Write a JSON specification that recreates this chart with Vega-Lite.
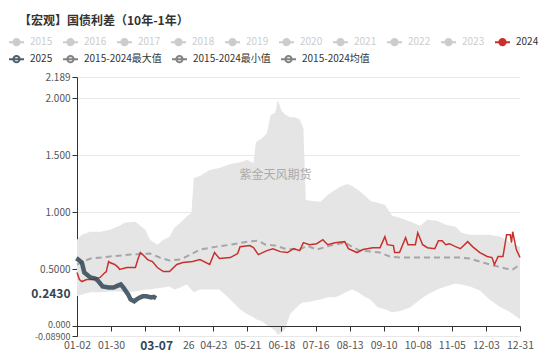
{
  "$schema": "https://vega.github.io/schema/vega-lite/v6.json",
  "autosize": "none",
  "width": 443,
  "height": 259,
  "padding": {"left": 77, "top": 77, "right": 30, "bottom": 20},
  "background": "white",
  "title": {"text": "【宏观】国债利差（10年-1年）", "anchor": "start", "frame": "group", "dx": -58, "offset": 6, "fontSize": 12, "font": "Noto Sans CJK SC", "fontWeight": "bold", "color": "#333"},
  "config": {"view": {"stroke": null}},
  "datasets": {
    "band": [
      {"date": "2024-01-02", "max": 0.758, "min": 0.260},
      {"date": "2024-01-06", "max": 0.802, "min": 0.277},
      {"date": "2024-01-13", "max": 0.828, "min": 0.295},
      {"date": "2024-01-21", "max": 0.828, "min": 0.295},
      {"date": "2024-01-29", "max": 0.846, "min": 0.303},
      {"date": "2024-02-06", "max": 0.881, "min": 0.303},
      {"date": "2024-02-10", "max": 0.907, "min": 0.295},
      {"date": "2024-02-19", "max": 0.916, "min": 0.303},
      {"date": "2024-02-27", "max": 0.846, "min": 0.321},
      {"date": "2024-03-02", "max": 0.758, "min": 0.321},
      {"date": "2024-03-08", "max": 0.714, "min": 0.330},
      {"date": "2024-03-13", "max": 0.758, "min": 0.338},
      {"date": "2024-03-18", "max": 0.784, "min": 0.347},
      {"date": "2024-03-22", "max": 0.863, "min": 0.321},
      {"date": "2024-03-27", "max": 0.907, "min": 0.338},
      {"date": "2024-04-01", "max": 0.959, "min": 0.365},
      {"date": "2024-04-05", "max": 0.994, "min": 0.321},
      {"date": "2024-04-07", "max": 1.300, "min": 0.295},
      {"date": "2024-04-12", "max": 1.318, "min": 0.321},
      {"date": "2024-04-20", "max": 1.370, "min": 0.321},
      {"date": "2024-04-28", "max": 1.388, "min": 0.321},
      {"date": "2024-05-07", "max": 1.423, "min": 0.233},
      {"date": "2024-05-15", "max": 1.440, "min": 0.146},
      {"date": "2024-05-21", "max": 1.458, "min": 0.102},
      {"date": "2024-05-26", "max": 1.432, "min": 0.076},
      {"date": "2024-05-28", "max": 1.615, "min": 0.058},
      {"date": "2024-06-02", "max": 1.650, "min": 0.041},
      {"date": "2024-06-06", "max": 1.694, "min": 0.006},
      {"date": "2024-06-09", "max": 1.851, "min": -0.011},
      {"date": "2024-06-13", "max": 1.878, "min": -0.046},
      {"date": "2024-06-15", "max": 1.990, "min": -0.081},
      {"date": "2024-06-18", "max": 1.895, "min": -0.055},
      {"date": "2024-06-21", "max": 1.860, "min": -0.029},
      {"date": "2024-06-25", "max": 1.834, "min": 0.102},
      {"date": "2024-06-29", "max": 1.834, "min": 0.146},
      {"date": "2024-07-03", "max": 1.816, "min": 0.190},
      {"date": "2024-07-06", "max": 1.738, "min": 0.207},
      {"date": "2024-07-08", "max": 1.108, "min": 0.207},
      {"date": "2024-07-13", "max": 1.099, "min": 0.216},
      {"date": "2024-07-20", "max": 1.091, "min": 0.233},
      {"date": "2024-07-26", "max": 1.152, "min": 0.251},
      {"date": "2024-08-01", "max": 1.196, "min": 0.251},
      {"date": "2024-08-05", "max": 1.222, "min": 0.268},
      {"date": "2024-08-11", "max": 1.248, "min": 0.303},
      {"date": "2024-08-15", "max": 1.230, "min": 0.321},
      {"date": "2024-08-20", "max": 1.196, "min": 0.295},
      {"date": "2024-08-26", "max": 1.143, "min": 0.251},
      {"date": "2024-08-30", "max": 1.099, "min": 0.233},
      {"date": "2024-09-05", "max": 1.082, "min": 0.164},
      {"date": "2024-09-11", "max": 1.064, "min": 0.146},
      {"date": "2024-09-17", "max": 0.968, "min": 0.120},
      {"date": "2024-09-23", "max": 0.951, "min": 0.129},
      {"date": "2024-10-02", "max": 0.916, "min": 0.164},
      {"date": "2024-10-10", "max": 0.881, "min": 0.233},
      {"date": "2024-10-16", "max": 0.933, "min": 0.277},
      {"date": "2024-10-24", "max": 0.924, "min": 0.321},
      {"date": "2024-10-31", "max": 0.889, "min": 0.347},
      {"date": "2024-11-08", "max": 0.872, "min": 0.373},
      {"date": "2024-11-13", "max": 0.819, "min": 0.365},
      {"date": "2024-11-20", "max": 0.802, "min": 0.347},
      {"date": "2024-11-28", "max": 0.802, "min": 0.312},
      {"date": "2024-12-06", "max": 0.802, "min": 0.233},
      {"date": "2024-12-15", "max": 0.784, "min": 0.164},
      {"date": "2024-12-23", "max": 0.732, "min": 0.120},
      {"date": "2024-12-31", "max": 0.697, "min": 0.058}
    ],
    "mean": [
      {"date": "2024-01-02", "value": 0.540},
      {"date": "2024-01-13", "value": 0.592},
      {"date": "2024-01-29", "value": 0.610},
      {"date": "2024-02-15", "value": 0.627},
      {"date": "2024-03-02", "value": 0.636},
      {"date": "2024-03-10", "value": 0.601},
      {"date": "2024-03-18", "value": 0.575},
      {"date": "2024-03-27", "value": 0.583},
      {"date": "2024-04-04", "value": 0.627},
      {"date": "2024-04-12", "value": 0.671},
      {"date": "2024-04-26", "value": 0.697},
      {"date": "2024-05-07", "value": 0.714},
      {"date": "2024-05-21", "value": 0.741},
      {"date": "2024-05-30", "value": 0.749},
      {"date": "2024-06-05", "value": 0.714},
      {"date": "2024-06-13", "value": 0.706},
      {"date": "2024-06-21", "value": 0.679},
      {"date": "2024-07-03", "value": 0.671},
      {"date": "2024-07-09", "value": 0.706},
      {"date": "2024-07-17", "value": 0.671},
      {"date": "2024-07-28", "value": 0.706},
      {"date": "2024-08-09", "value": 0.732},
      {"date": "2024-08-21", "value": 0.662},
      {"date": "2024-08-31", "value": 0.653},
      {"date": "2024-09-07", "value": 0.645},
      {"date": "2024-09-15", "value": 0.610},
      {"date": "2024-09-23", "value": 0.601},
      {"date": "2024-10-10", "value": 0.601},
      {"date": "2024-10-26", "value": 0.601},
      {"date": "2024-11-12", "value": 0.601},
      {"date": "2024-11-20", "value": 0.592},
      {"date": "2024-11-28", "value": 0.566},
      {"date": "2024-12-06", "value": 0.540},
      {"date": "2024-12-19", "value": 0.505},
      {"date": "2024-12-25", "value": 0.496},
      {"date": "2024-12-31", "value": 0.540}
    ],
    "y2024": [
      {"date": "2024-01-02", "series": "2024", "value": 0.469},
      {"date": "2024-01-04", "series": "2024", "value": 0.408},
      {"date": "2024-01-06", "series": "2024", "value": 0.390},
      {"date": "2024-01-10", "series": "2024", "value": 0.408},
      {"date": "2024-01-15", "series": "2024", "value": 0.408},
      {"date": "2024-01-21", "series": "2024", "value": 0.426},
      {"date": "2024-01-25", "series": "2024", "value": 0.469},
      {"date": "2024-01-26", "series": "2024", "value": 0.475},
      {"date": "2024-01-28", "series": "2024", "value": 0.566},
      {"date": "2024-01-29", "series": "2024", "value": 0.557},
      {"date": "2024-02-02", "series": "2024", "value": 0.540},
      {"date": "2024-02-05", "series": "2024", "value": 0.513},
      {"date": "2024-02-06", "series": "2024", "value": 0.496},
      {"date": "2024-02-12", "series": "2024", "value": 0.513},
      {"date": "2024-02-19", "series": "2024", "value": 0.513},
      {"date": "2024-02-21", "series": "2024", "value": 0.583},
      {"date": "2024-02-23", "series": "2024", "value": 0.645},
      {"date": "2024-02-25", "series": "2024", "value": 0.627},
      {"date": "2024-02-29", "series": "2024", "value": 0.583},
      {"date": "2024-03-04", "series": "2024", "value": 0.566},
      {"date": "2024-03-08", "series": "2024", "value": 0.513},
      {"date": "2024-03-13", "series": "2024", "value": 0.478},
      {"date": "2024-03-18", "series": "2024", "value": 0.478},
      {"date": "2024-03-24", "series": "2024", "value": 0.540},
      {"date": "2024-03-29", "series": "2024", "value": 0.557},
      {"date": "2024-04-06", "series": "2024", "value": 0.566},
      {"date": "2024-04-12", "series": "2024", "value": 0.583},
      {"date": "2024-04-20", "series": "2024", "value": 0.540},
      {"date": "2024-04-24", "series": "2024", "value": 0.645},
      {"date": "2024-04-28", "series": "2024", "value": 0.592},
      {"date": "2024-05-07", "series": "2024", "value": 0.601},
      {"date": "2024-05-13", "series": "2024", "value": 0.636},
      {"date": "2024-05-15", "series": "2024", "value": 0.697},
      {"date": "2024-05-23", "series": "2024", "value": 0.706},
      {"date": "2024-05-26", "series": "2024", "value": 0.688},
      {"date": "2024-05-30", "series": "2024", "value": 0.627},
      {"date": "2024-06-06", "series": "2024", "value": 0.662},
      {"date": "2024-06-11", "series": "2024", "value": 0.679},
      {"date": "2024-06-17", "series": "2024", "value": 0.653},
      {"date": "2024-06-23", "series": "2024", "value": 0.645},
      {"date": "2024-06-28", "series": "2024", "value": 0.679},
      {"date": "2024-07-03", "series": "2024", "value": 0.662},
      {"date": "2024-07-06", "series": "2024", "value": 0.732},
      {"date": "2024-07-11", "series": "2024", "value": 0.714},
      {"date": "2024-07-17", "series": "2024", "value": 0.723},
      {"date": "2024-07-22", "series": "2024", "value": 0.758},
      {"date": "2024-07-26", "series": "2024", "value": 0.714},
      {"date": "2024-08-01", "series": "2024", "value": 0.732},
      {"date": "2024-08-09", "series": "2024", "value": 0.741},
      {"date": "2024-08-12", "series": "2024", "value": 0.679},
      {"date": "2024-08-19", "series": "2024", "value": 0.645},
      {"date": "2024-08-24", "series": "2024", "value": 0.671},
      {"date": "2024-09-01", "series": "2024", "value": 0.688},
      {"date": "2024-09-07", "series": "2024", "value": 0.688},
      {"date": "2024-09-11", "series": "2024", "value": 0.784},
      {"date": "2024-09-13", "series": "2024", "value": 0.714},
      {"date": "2024-09-18", "series": "2024", "value": 0.706},
      {"date": "2024-09-19", "series": "2024", "value": 0.645},
      {"date": "2024-09-23", "series": "2024", "value": 0.645},
      {"date": "2024-09-28", "series": "2024", "value": 0.776},
      {"date": "2024-09-30", "series": "2024", "value": 0.714},
      {"date": "2024-10-06", "series": "2024", "value": 0.714},
      {"date": "2024-10-08", "series": "2024", "value": 0.819},
      {"date": "2024-10-12", "series": "2024", "value": 0.714},
      {"date": "2024-10-16", "series": "2024", "value": 0.688},
      {"date": "2024-10-22", "series": "2024", "value": 0.679},
      {"date": "2024-10-25", "series": "2024", "value": 0.749},
      {"date": "2024-10-28", "series": "2024", "value": 0.749},
      {"date": "2024-10-31", "series": "2024", "value": 0.714},
      {"date": "2024-11-03", "series": "2024", "value": 0.723},
      {"date": "2024-11-08", "series": "2024", "value": 0.697},
      {"date": "2024-11-12", "series": "2024", "value": 0.679},
      {"date": "2024-11-18", "series": "2024", "value": 0.741},
      {"date": "2024-11-22", "series": "2024", "value": 0.697},
      {"date": "2024-11-28", "series": "2024", "value": 0.645},
      {"date": "2024-12-04", "series": "2024", "value": 0.610},
      {"date": "2024-12-08", "series": "2024", "value": 0.601},
      {"date": "2024-12-10", "series": "2024", "value": 0.540},
      {"date": "2024-12-13", "series": "2024", "value": 0.610},
      {"date": "2024-12-17", "series": "2024", "value": 0.610},
      {"date": "2024-12-20", "series": "2024", "value": 0.802},
      {"date": "2024-12-23", "series": "2024", "value": 0.802},
      {"date": "2024-12-24", "series": "2024", "value": 0.732},
      {"date": "2024-12-25", "series": "2024", "value": 0.828},
      {"date": "2024-12-28", "series": "2024", "value": 0.671},
      {"date": "2024-12-31", "series": "2024", "value": 0.601}
    ],
    "y2025": [
      {"date": "2024-01-02", "series": "2025", "value": 0.566},
      {"date": "2024-01-03", "series": "2025", "value": 0.583},
      {"date": "2024-01-06", "series": "2025", "value": 0.557},
      {"date": "2024-01-08", "series": "2025", "value": 0.469},
      {"date": "2024-01-13", "series": "2025", "value": 0.426},
      {"date": "2024-01-17", "series": "2025", "value": 0.417},
      {"date": "2024-01-19", "series": "2025", "value": 0.400},
      {"date": "2024-01-23", "series": "2025", "value": 0.347},
      {"date": "2024-01-28", "series": "2025", "value": 0.338},
      {"date": "2024-02-01", "series": "2025", "value": 0.338},
      {"date": "2024-02-05", "series": "2025", "value": 0.356},
      {"date": "2024-02-07", "series": "2025", "value": 0.365},
      {"date": "2024-02-09", "series": "2025", "value": 0.338},
      {"date": "2024-02-13", "series": "2025", "value": 0.277},
      {"date": "2024-02-15", "series": "2025", "value": 0.233},
      {"date": "2024-02-18", "series": "2025", "value": 0.216},
      {"date": "2024-02-20", "series": "2025", "value": 0.233},
      {"date": "2024-02-23", "series": "2025", "value": 0.251},
      {"date": "2024-02-25", "series": "2025", "value": 0.260},
      {"date": "2024-02-28", "series": "2025", "value": 0.260},
      {"date": "2024-03-03", "series": "2025", "value": 0.251},
      {"date": "2024-03-05", "series": "2025", "value": 0.255},
      {"date": "2024-03-07", "series": "2025", "value": 0.243}
    ],
    "mark": [
      {"label": "紫金天风期货"}
    ]
  },
  "layer": [
    {
      "data": {"name": "band", "format": {"parse": {"date": "date:'%Y-%m-%d'"}}},
      "mark": {"type": "area", "color": "#e5e5e5", "opacity": 1},
      "encoding": {
        "x": {"field": "date", "type": "temporal",
          "scale": {"domain": [{"year": 2024, "month": 1, "date": 2}, {"year": 2024, "month": 12, "date": 31}]},
          "axis": {
            "title": null, "zindex": 1,
            "offset": -10,
            "tickCount": 40,
            "values": [
              {"year": 2024, "month": 1, "date": 2}, {"year": 2024, "month": 1, "date": 30},
              {"year": 2024, "month": 2, "date": 27}, {"year": 2024, "month": 3, "date": 7},
              {"year": 2024, "month": 3, "date": 26}, {"year": 2024, "month": 4, "date": 23},
              {"year": 2024, "month": 5, "date": 21}, {"year": 2024, "month": 6, "date": 18},
              {"year": 2024, "month": 7, "date": 16}, {"year": 2024, "month": 8, "date": 13},
              {"year": 2024, "month": 9, "date": 10}, {"year": 2024, "month": 10, "date": 8},
              {"year": 2024, "month": 11, "date": 5}, {"year": 2024, "month": 12, "date": 3},
              {"year": 2024, "month": 12, "date": 31}
            ],
            "labelExpr": "timeFormat(datum.value,'%m-%d')=='02-27' ? '' : (timeFormat(datum.value,'%m-%d')=='03-26' ? '26' : timeFormat(datum.value,'%m-%d'))",
            "labelOverlap": false, "labelFlush": false, "labelBound": false,
            "grid": false, "domainColor": "#333", "domainWidth": 1,
            "tickSize": 5,
            "tickColor": {"condition": {"test": "timeFormat(datum.value,'%m-%d')=='03-07'", "value": "transparent"}, "value": "#333"},
            "labelFont": "Noto Sans CJK SC",
            "labelFontSize": {"condition": {"test": "timeFormat(datum.value,'%m-%d')=='03-07'", "value": 12}, "value": 10.5},
            "labelFontWeight": {"condition": {"test": "timeFormat(datum.value,'%m-%d')=='03-07'", "value": "bold"}, "value": "normal"},
            "labelColor": {"condition": {"test": "timeFormat(datum.value,'%m-%d')=='03-07'", "value": "#2f4554"}, "value": "#555"},
            "labelOffset": {"condition": {"test": "timeFormat(datum.value,'%m-%d')=='03-26'", "value": 9}, "value": 0},
            "labelPadding": 9
          }
        },
        "y": {"field": "max", "type": "quantitative",
          "scale": {"domain": [-0.089, 2.189], "nice": false, "zero": false},
          "axis": {
            "title": null,
            "tickCount": 40,
            "values": [-0.089, 0, 0.243, 0.5, 1, 1.5, 2, 2.189],
            "labelExpr": "datum.value == 0.5 ? '0.5000' : (datum.value == -0.089 ? '-0.08900' : (datum.value == 0.243 ? '0.2430' : format(datum.value, '.3f')))",
            "labelOverlap": false, "labelBound": false, "labelFlush": false,
            "grid": true,
            "gridColor": {"condition": {"test": "datum.value == 0.243 || datum.value == 0", "value": "transparent"}, "value": "#e8e8e8"},
            "domainColor": "#333", "tickSize": 5,
            "tickColor": {"condition": {"test": "datum.value == 0.243", "value": "transparent"}, "value": "#333"},
            "labelFont": "Noto Sans CJK SC",
            "labelFontSize": {"condition": [
              {"test": "datum.value == 0.243", "value": 12},
              {"test": "datum.value <= 0", "value": 9}
            ], "value": 10},
            "labelFontWeight": {"condition": {"test": "datum.value == 0.243", "value": "bold"}, "value": "normal"},
            "labelColor": {"condition": {"test": "datum.value == 0.243", "value": "#2f4554"}, "value": "#555"},
            "labelOffset": {"condition": [
              {"test": "datum.value == 0.243", "value": -5},
              {"test": "datum.value == 0", "value": -1.5}
            ], "value": 0},
            "labelPadding": 2
          }
        },
        "y2": {"field": "min"}
      }
    },
    {
      "data": {"name": "mean", "format": {"parse": {"date": "date:'%Y-%m-%d'"}}},
      "mark": {"type": "line", "color": "#a6a6a6", "strokeWidth": 2, "strokeDash": [6, 4]},
      "encoding": {
        "x": {"field": "date", "type": "temporal"},
        "y": {"field": "value", "type": "quantitative"}
      }
    },
    {
      "data": {"name": "y2024", "format": {"parse": {"date": "date:'%Y-%m-%d'"}}},
      "mark": {"type": "line", "strokeWidth": 1.5},
      "encoding": {
        "x": {"field": "date", "type": "temporal"},
        "y": {"field": "value", "type": "quantitative"},
        "color": {"field": "series", "type": "nominal",
          "scale": {
            "domain": ["2015", "2016", "2017", "2018", "2019", "2020", "2021", "2022", "2023", "2024"],
            "range": ["#cccccc", "#cccccc", "#cccccc", "#cccccc", "#cccccc", "#cccccc", "#cccccc", "#cccccc", "#cccccc", "#c9302c"]
          },
          "legend": {
            "orient": "none", "legendX": -69, "legendY": -43.5,
            "direction": "horizontal", "columns": 10,
            "title": null, "padding": 0,
            "symbolType": "M-1,0L1,0M0.42,0A0.42,0.42,0,1,1,-0.42,0A0.42,0.42,0,1,1,0.42,0Z",
            "symbolSize": 225, "symbolStrokeWidth": 2,
            "labelFont": "Noto Sans CJK SC", "labelFontSize": 10, "labelColor": "#333",
            "labelOffset": 5, "columnPadding": 6, "rowPadding": 0, "labelLimit": 200,
            "encode": {
              "symbols": {"update": {
                "fill": {"scale": "color", "field": "value"},
                "stroke": {"scale": "color", "field": "value"},
                "strokeWidth": {"value": 2},
                "opacity": {"value": 1}
              }},
              "labels": {"update": {
                "fill": {"signal": "datum.value < '2024' ? '#cccccc' : '#333333'"}
              }}
            }
          }
        }
      }
    },
    {
      "data": {"name": "y2025", "format": {"parse": {"date": "date:'%Y-%m-%d'"}}},
      "mark": {"type": "line", "strokeWidth": 4.5, "opacity": 0.85},
      "encoding": {
        "x": {"field": "date", "type": "temporal"},
        "y": {"field": "value", "type": "quantitative"},
        "stroke": {"field": "series", "type": "nominal",
          "scale": {
            "domain": ["2025", "2015-2024最大值", "2015-2024最小值", "2015-2024均值"],
            "range": ["#2f4554", "#6e6e6e", "#6e6e6e", "#6e6e6e"]
          },
          "legend": {
            "orient": "none", "legendX": -69, "legendY": -26.5,
            "direction": "horizontal", "columns": 4,
            "title": null, "padding": 0,
            "symbolType": "M-1,0L1,0M0.42,0A0.42,0.42,0,1,1,-0.42,0A0.42,0.42,0,1,1,0.42,0Z",
            "symbolSize": 225, "symbolStrokeWidth": 2,
            "labelFont": "Noto Sans CJK SC", "labelFontSize": 10, "labelColor": "#333",
            "labelOffset": 5, "columnPadding": 6, "rowPadding": 0, "labelLimit": 200,
            "encode": {
              "symbols": {"update": {
                "fill": {"scale": "stroke", "field": "value"},
                "stroke": {"scale": "stroke", "field": "value"},
                "strokeWidth": {"value": 2},
                "opacity": {"value": 1}
              }}
            }
          }
        }
      }
    },
    {
      "data": {"name": "mark"},
      "mark": {"type": "text", "font": "Noto Sans CJK SC", "fontSize": 12, "color": "#aaaaaa"},
      "encoding": {
        "x": {"datum": {"year": 2024, "month": 6, "date": 13}, "type": "temporal"},
        "y": {"datum": 1.33, "type": "quantitative"},
        "text": {"field": "label"}
      }
    }
  ]
}
